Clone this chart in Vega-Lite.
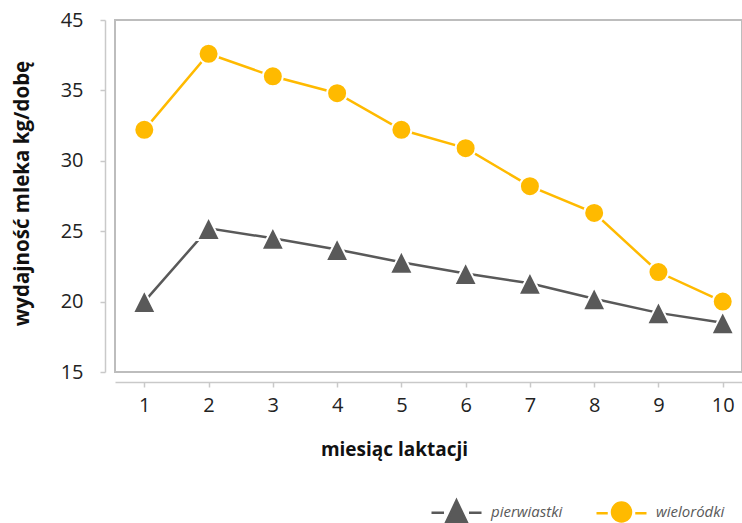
{
  "$schema": "https://vega.github.io/schema/vega-lite/v6.json",
  "width": 627,
  "height": 352,
  "autosize": {"type": "none"},
  "padding": {"left": 115, "top": 20, "right": 0, "bottom": 151},
  "background": "white",
  "config": {
    "font": "Open Sans",
    "view": {"stroke": "#bdbdbd", "strokeWidth": 2}
  },
  "data": {
    "values": [
      {"miesiac": 1, "grupa": "pierwiastki", "wydajnosc": 20.0},
      {"miesiac": 2, "grupa": "pierwiastki", "wydajnosc": 25.2},
      {"miesiac": 3, "grupa": "pierwiastki", "wydajnosc": 24.5},
      {"miesiac": 4, "grupa": "pierwiastki", "wydajnosc": 23.7},
      {"miesiac": 5, "grupa": "pierwiastki", "wydajnosc": 22.8},
      {"miesiac": 6, "grupa": "pierwiastki", "wydajnosc": 22.0},
      {"miesiac": 7, "grupa": "pierwiastki", "wydajnosc": 21.3},
      {"miesiac": 8, "grupa": "pierwiastki", "wydajnosc": 20.2},
      {"miesiac": 9, "grupa": "pierwiastki", "wydajnosc": 19.2},
      {"miesiac": 10, "grupa": "pierwiastki", "wydajnosc": 18.5},
      {"miesiac": 1, "grupa": "wieloródki", "wydajnosc": 32.2},
      {"miesiac": 2, "grupa": "wieloródki", "wydajnosc": 37.6},
      {"miesiac": 3, "grupa": "wieloródki", "wydajnosc": 36.0},
      {"miesiac": 4, "grupa": "wieloródki", "wydajnosc": 34.8},
      {"miesiac": 5, "grupa": "wieloródki", "wydajnosc": 32.2},
      {"miesiac": 6, "grupa": "wieloródki", "wydajnosc": 30.9},
      {"miesiac": 7, "grupa": "wieloródki", "wydajnosc": 28.2},
      {"miesiac": 8, "grupa": "wieloródki", "wydajnosc": 26.3},
      {"miesiac": 9, "grupa": "wieloródki", "wydajnosc": 22.1},
      {"miesiac": 10, "grupa": "wieloródki", "wydajnosc": 20.0}
    ]
  },
  "layer": [
    {
      "mark": {"type": "line", "strokeWidth": 2.5},
      "encoding": {
        "x": {
          "field": "miesiac",
          "type": "quantitative",
          "scale": {"domain": [0.544, 10.3], "nice": false, "zero": false},
          "axis": {
            "values": [1, 2, 3, 4, 5, 6, 7, 8, 9, 10],
            "format": "d",
            "offset": 10,
            "grid": false,
            "domainColor": "#c9c9c9",
            "domainWidth": 1.5,
            "tickColor": "#c9c9c9",
            "tickWidth": 1.5,
            "tickSize": 5,
            "labelFontSize": 20,
            "labelColor": "#222222",
            "labelPadding": 8,
            "title": "miesiąc laktacji",
            "titleFontSize": 19,
            "titleFontWeight": "bold",
            "titleColor": "#111111",
            "titleX": 279,
            "titleY": 67,
            "titleBaseline": "middle",
            "titleAlign": "center"
          }
        },
        "y": {
          "field": "wydajnosc",
          "type": "quantitative",
          "scale": {"domain": [15, 40], "nice": false, "zero": false},
          "axis": {
            "values": [15, 20, 25, 30, 35, 40],
            "labelExpr": "datum.value == 40 ? '45' : datum.label",
            "offset": 10,
            "grid": false,
            "domainColor": "#c9c9c9",
            "domainWidth": 1.5,
            "tickColor": "#c9c9c9",
            "tickWidth": 1.5,
            "tickSize": 5,
            "labelFontSize": 20,
            "labelColor": "#222222",
            "labelPadding": 17,
            "title": "wydajność mleka kg/dobę",
            "titleFontSize": 20.5,
            "titleFontWeight": "bold",
            "titleColor": "#111111",
            "titleX": -83,
            "titleY": 173,
            "titleAngle": 270,
            "titleBaseline": "middle",
            "titleAlign": "center"
          }
        },
        "stroke": {
          "field": "grupa",
          "type": "nominal",
          "scale": {"domain": ["pierwiastki", "wieloródki"], "range": ["#595959", "#FFBA00"]},
          "legend": {
            "orient": "none",
            "legendX": 315,
            "legendY": 465,
            "direction": "horizontal",
            "title": null,
            "symbolSize": 2500,
            "labelOffset": 8,
            "columnPadding": 28,
            "labelFontStyle": "italic",
            "labelFontSize": 15,
            "labelColor": "#595959",
            "encode": {
              "symbols": {
                "update": {
                  "shape": {"signal": "datum.value === 'pierwiastki' ? 'M-1,0.05H-0.5M0.5,0.05H1M0,-0.44L0.41,0.42L-0.41,0.42Z' : 'M-1,0.05H-0.55M0.55,0.05H1M0.38,0A0.38,0.38,0,1,1,-0.38,0A0.38,0.38,0,1,1,0.38,0Z'"},
                  "fill": {"signal": "datum.value === 'pierwiastki' ? '#595959' : '#FFBA00'"},
                  "stroke": {"signal": "datum.value === 'pierwiastki' ? '#595959' : '#FFBA00'"},
                  "strokeWidth": {"value": 2.5},
                  "size": {"value": 2500},
                  "opacity": {"value": 1}
                }
              }
            }
          }
        }
      }
    },
    {
      "transform": [{"filter": "datum.grupa === 'pierwiastki'"}],
      "mark": {"type": "point", "filled": true, "opacity": 1, "size": 400, "color": "#595959", "shape": "M0,-1.15L1.15,1.15L-1.15,1.15Z", "stroke": "white", "strokeWidth": 2},
      "encoding": {
        "x": {"field": "miesiac", "type": "quantitative"},
        "y": {"field": "wydajnosc", "type": "quantitative"}
      }
    },
    {
      "transform": [{"filter": "datum.grupa === 'wieloródki'"}],
      "mark": {"type": "point", "filled": true, "opacity": 1, "size": 400, "color": "#FFBA00", "shape": "circle", "stroke": "white", "strokeWidth": 2},
      "encoding": {
        "x": {"field": "miesiac", "type": "quantitative"},
        "y": {"field": "wydajnosc", "type": "quantitative"}
      }
    }
  ]
}
